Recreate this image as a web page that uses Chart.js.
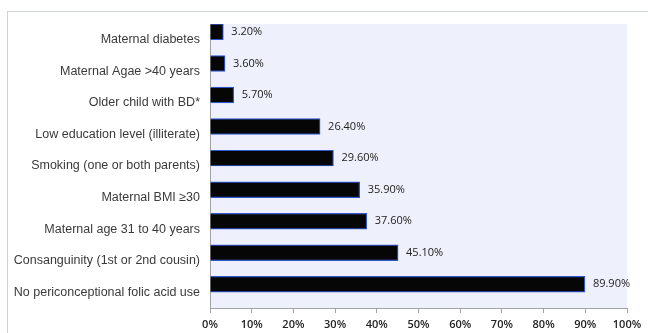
<!DOCTYPE html>
<html>
<head>
<meta charset="utf-8">
<script src="https://cdn.jsdelivr.net/npm/chart.js@4"></script>
<style>
    html, body { margin: 0; padding: 0; background: #fff; }
    #wrap { position: relative; width: 648px; height: 333px; }
    #frame {
        position: absolute; left: 7px; top: 11px; right: 0; bottom: 0;
        border-top: 1px solid #cdd4d1; border-left: 1px solid #cdd4d1;
    }
    canvas { position: absolute; left: 0; top: 0; }
</style>
</head>
<body>
<div id="wrap">
    <div id="frame"></div>
    <canvas id="grafico" width="648" height="333"></canvas>
</div>
<script>
    const categorias = [
        'Maternal diabetes',
        'Maternal Agae >40 years',
        'Older child with BD*',
        'Low education level (illiterate)',
        'Smoking (one or both parents)',
        'Maternal BMI \u226530',
        'Maternal age 31 to 40 years',
        'Consanguinity (1st or 2nd cousin)',
        'No periconceptional folic acid use'
    ];
    const valores = [3.2, 3.6, 5.7, 26.4, 29.6, 35.9, 37.6, 45.1, 89.9];
    // segunda serie vazia (o grafico original tem as barras deslocadas para cima)
    const vazio = [null, null, null, null, null, null, null, null, null];
    const ticksX = ['0%', '10%', '20%', '30%', '40%', '50%', '60%', '70%', '80%', '90%', '100%'];

    const fundoArea = {
        id: 'fundoArea',
        beforeDraw(chart) {
            const { ctx, chartArea: a } = chart;
            ctx.save();
            ctx.fillStyle = '#eef1fc';
            ctx.fillRect(a.left, a.top, a.right - a.left, a.bottom - a.top);
            ctx.restore();
        }
    };

    const rotulos = {
        id: 'rotulos',
        afterDatasetsDraw(chart) {
            const ctx = chart.ctx;
            const meta = chart.getDatasetMeta(0);
            ctx.save();
            ctx.font = '11px "Open Sans"';
            ctx.fillStyle = '#222';
            ctx.textBaseline = 'middle';
            ctx.textAlign = 'left';
            meta.data.forEach((bar, i) => {
                ctx.fillText(valores[i].toFixed(2) + '%', bar.x + 8, bar.y);
            });
            ctx.restore();
        }
    };

    new Chart(document.getElementById('grafico').getContext('2d'), {
        type: 'bar',
        data: {
            labels: categorias,
            datasets: [{
                label: 'Risk factor',
                data: valores,
                backgroundColor: '#060606',
                borderColor: '#2f55c8',
                borderWidth: 1.2,
                categoryPercentage: 1,
                barPercentage: 1
            }, {
                label: '',
                data: vazio,
                categoryPercentage: 1,
                barPercentage: 1
            }]
        },
        options: {
            indexAxis: 'y',
            responsive: false,
            animation: false,
            plugins: {
                legend: { display: false },
                tooltip: { enabled: false }
            },
            layout: {
                padding: { left: 0, right: 21, top: 24, bottom: 0 }
            },
            scales: {
                x: {
                    min: 0,
                    max: 100,
                    ticks: {
                        stepSize: 10,
                        padding: 5,
                        color: '#222',
                        font: { family: 'Open Sans', size: 11, weight: '600' },
                        callback: (v, i) => ticksX[i]
                    },
                    grid: {
                        drawOnChartArea: false,
                        drawTicks: true,
                        tickLength: 5,
                        color: '#a0a4a8'
                    },
                    border: { display: true, color: '#a0a4a8' },
                    afterFit(scale) { scale.height = 25; }
                },
                y: {
                    ticks: {
                        padding: 10,
                        color: '#3a3a3a',
                        font: { family: 'Liberation Sans', size: 12.5 }
                    },
                    grid: { display: false, drawTicks: false },
                    border: { display: true, color: '#a0a4a8' },
                    afterFit(scale) { scale.width = 210; }
                }
            }
        },
        plugins: [fundoArea, rotulos]
    });
</script>
</body>
</html>
